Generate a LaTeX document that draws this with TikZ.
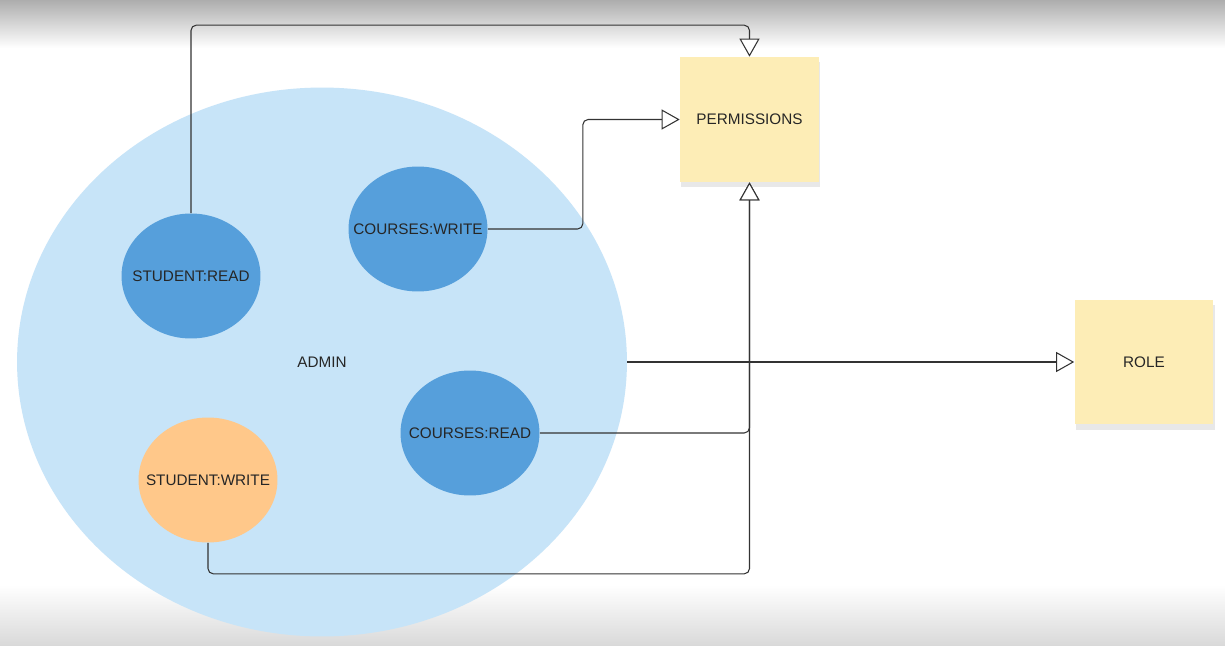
\documentclass[tikz,border=0pt]{standalone}
\usepackage{fontspec}
\setmainfont{Liberation Sans}
\usepackage{tikz}
\usetikzlibrary{arrows.meta}
\usetikzlibrary{shapes.geometric}
\usetikzlibrary{shadows}
\definecolor{adminblue}{HTML}{C7E4F8}
\definecolor{permblue}{HTML}{569FDB}
\definecolor{permorange}{HTML}{FFC88A}
\definecolor{notepaper}{HTML}{FDEDB6}
\definecolor{wirecol}{HTML}{333333}
\tikzset{basic/.style={draw=none,text=black!85,inner sep=0pt,
                       text badly centered,font=\fontsize{8.7}{10}\selectfont}}
\tikzset{perm/.style={basic,ellipse,fill=permblue,inner xsep=-10pt,
                      minimum width=2.78cm,minimum height=2.5cm}}
\tikzset{note/.style={basic,rectangle,fill=notepaper,minimum width=2.78cm,minimum height=2.5cm,
                      drop shadow={shadow xshift=0.6pt,shadow yshift=-3pt,opacity=0.18}}}

\begin{document}
\begin{tikzpicture}[x=0.02cm,y=-0.02cm,>={Triangle[open,length=3.6mm,width=4mm,fill=white]}]
  \tikzstyle{wire}=[draw=wirecol,line width=0.6pt,rounded corners=3pt]
  \tikzstyle{adminzone}=[basic,ellipse,fill=adminblue,minimum width=12.2cm,minimum height=10.98cm]
  \useasboundingbox (0,0) rectangle (1225,646);
  % backdrop, fading to grey at the top and the bottom
  \fill[white] (0,0) rectangle (1225,646);
  \shade[top color=black!32,bottom color=white] (0,0) rectangle (1225,48);
  \shade[top color=white,bottom color=black!15] (0,585) rectangle (1225,646);

  % the role and the permissions it holds
  \node (admin) [adminzone] at (322,362) {ADMIN};
  \node (sread) [perm] at (191,276) {STUDENT:READ};
  \node (cwrite) [perm] at (418,229) {COURSES:WRITE};
  \node (cread) [perm] at (470,433) {COURSES:READ};
  \node (swrite) [perm,fill=permorange] at (208,480) {STUDENT:WRITE};

  % sticky notes
  \node (permissions) [note] at (749.5,119.5) {PERMISSIONS};
  \node (role) [note] at (1144,362) {ROLE};

  % every permission points to PERMISSIONS, the admin zone to ROLE
  \draw[wire,->] (sread.north) -- ++(0,-188) -| (permissions.north);
  \draw[wire,->] (cwrite.east) -- ++(95,0) |- (permissions.west);
  \draw[wire,->] (cread.east) -| (permissions.south);
  \draw[wire,->] (swrite.south) -- ++(0,31) -| (permissions.south);
  \draw[wire,->] (admin.east) -- (role.west);
\end{tikzpicture}
\end{document}
